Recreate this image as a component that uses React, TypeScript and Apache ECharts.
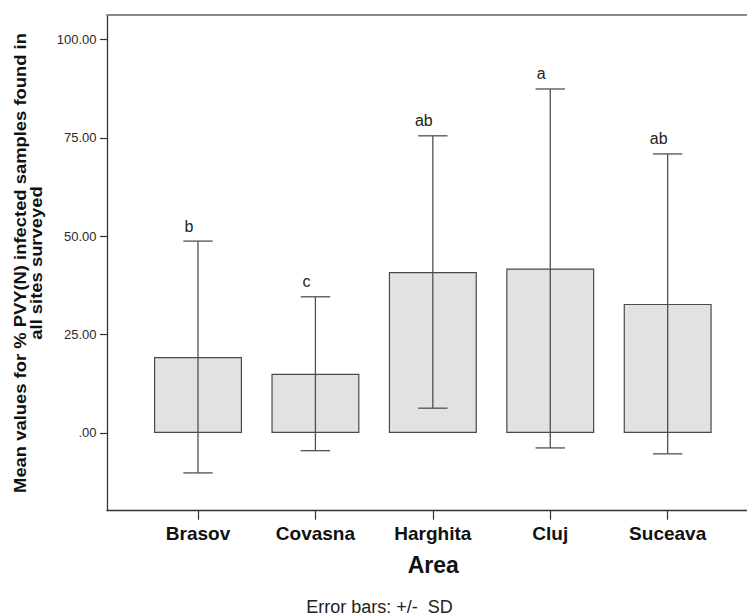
import React, { useEffect, useRef } from "react";
import * as echarts from "echarts";

const categories = ["Brasov", "Covasna", "Harghita", "Cluj", "Suceava"];
const means = [19.3, 15.05, 40.9, 41.8, 32.8];
const sds = [29.45, 19.55, 34.6, 45.6, 38.1];
const letters = ["b", "c", "ab", "a", "ab"];
const yTicks = [0, 25, 50, 75, 100];
const xTicks = [0, 1, 2, 3, 4];

const FONT = '"Liberation Sans", Arial, sans-serif';

export default function App() {
  const ref = useRef<HTMLDivElement>(null);
  useEffect(() => {
    const chart = echarts.init(ref.current!, null, { renderer: "svg" });
    const xMin = -0.775;
    const xMax = 4.846;
    const option: any = {
      animation: false,
      backgroundColor: "#ffffff",
      grid: { left: 107, right: 0, top: 15, bottom: 105.3, containLabel: false },
      xAxis: [
        {
          type: "value",
          min: xMin,
          max: xMax,
          position: "bottom",
          axisLine: { show: true, onZero: false, lineStyle: { color: "#333", width: 1.3 } },
          axisTick: { show: true, length: 9, customValues: xTicks, lineStyle: { color: "#333", width: 1.2 } },
          axisLabel: {
            customValues: xTicks,
            formatter: (v: number) => categories[Math.round(v)] ?? "",
            fontSize: 19,
            fontWeight: "bold",
            fontFamily: FONT,
            color: "#111",
            margin: 13,
          },
          splitLine: { show: false },
        },
        {
          type: "value",
          min: xMin,
          max: xMax,
          position: "top",
          axisLine: { show: true, onZero: false, lineStyle: { color: "#8a8a8a", width: 2 } },
          axisTick: { show: false },
          axisLabel: { show: false },
          splitLine: { show: false },
        },
      ],
      yAxis: {
        type: "value",
        min: -19.75,
        max: 106.2,
        axisLine: { show: true, onZero: false, lineStyle: { color: "#333", width: 1.3 } },
        axisTick: { show: true, length: 7, customValues: yTicks, lineStyle: { color: "#333", width: 1.2 } },
        axisLabel: {
          customValues: yTicks,
          formatter: (v: number) => (v === 0 ? ".00" : v.toFixed(2)),
          fontSize: 13,
          fontFamily: FONT,
          color: "#2a2a2a",
          margin: 10.5,
          padding: [5, 0, 0, 0],
        },
        splitLine: { show: false },
      },
      series: [
        {
          type: "bar",
          xAxisIndex: 0,
          data: categories.map((_, i) => [i, means[i]]),
          barWidth: 88,
          itemStyle: { color: "#e2e2e2", borderColor: "#4a4a4a", borderWidth: 1.2 },
          silent: true,
        },
        {
          type: "custom",
          xAxisIndex: 0,
          z: 5,
          encode: { x: 0, y: [1, 2] },
          data: categories.map((_, i) => [i, means[i] - sds[i], means[i] + sds[i]]),
          renderItem: (params: any, api: any) => {
            const x = api.value(0);
            const lo = api.coord([x, api.value(1)]);
            const hi = api.coord([x, api.value(2)]);
            const cap = 14.7;
            const ls = { stroke: "#505050", lineWidth: 1.3 };
            return {
              type: "group",
              children: [
                { type: "line", shape: { x1: hi[0], y1: hi[1], x2: lo[0], y2: lo[1] }, style: ls },
                { type: "line", shape: { x1: hi[0] - cap, y1: hi[1], x2: hi[0] + cap, y2: hi[1] }, style: ls },
                { type: "line", shape: { x1: lo[0] - cap, y1: lo[1], x2: lo[0] + cap, y2: lo[1] }, style: ls },
                {
                  type: "text",
                  x: hi[0] - 9,
                  y: hi[1] - 7,
                  style: {
                    text: letters[params.dataIndex],
                    fill: "#222",
                    font: `16px ${FONT}`,
                    textAlign: "center",
                    textVerticalAlign: "bottom",
                  },
                },
              ],
            };
          },
        },
      ],
      graphic: [
        {
          type: "text",
          x: 28,
          y: 263,
          rotation: Math.PI / 2,
          scaleX: 1.15,
          style: {
            text: "Mean values for % PVY(N) infected samples found in\nall sites surveyed",
            font: `bold 16px ${FONT}`,
            fill: "#111",
            textAlign: "center",
            textVerticalAlign: "middle",
            lineHeight: 16,
          },
        },
        {
          type: "text",
          x: 433.3,
          y: 565,
          style: {
            text: "Area",
            font: `bold 23px ${FONT}`,
            fill: "#111",
            textAlign: "center",
            textVerticalAlign: "middle",
          },
        },
        {
          type: "text",
          x: 379.5,
          y: 607,
          style: {
            text: "Error bars: +/-  SD",
            font: `18px ${FONT}`,
            fill: "#222",
            textAlign: "center",
            textVerticalAlign: "middle",
          },
        },
      ],
    };
    chart.setOption(option);
    return () => chart.dispose();
  }, []);
  return (
    <div
      style={{ position: "absolute", left: 0, top: 0, width: 747, height: 616, overflow: "hidden" }}
    >
      <div ref={ref} style={{ width: 767, height: 616 }} />
    </div>
  );
}
